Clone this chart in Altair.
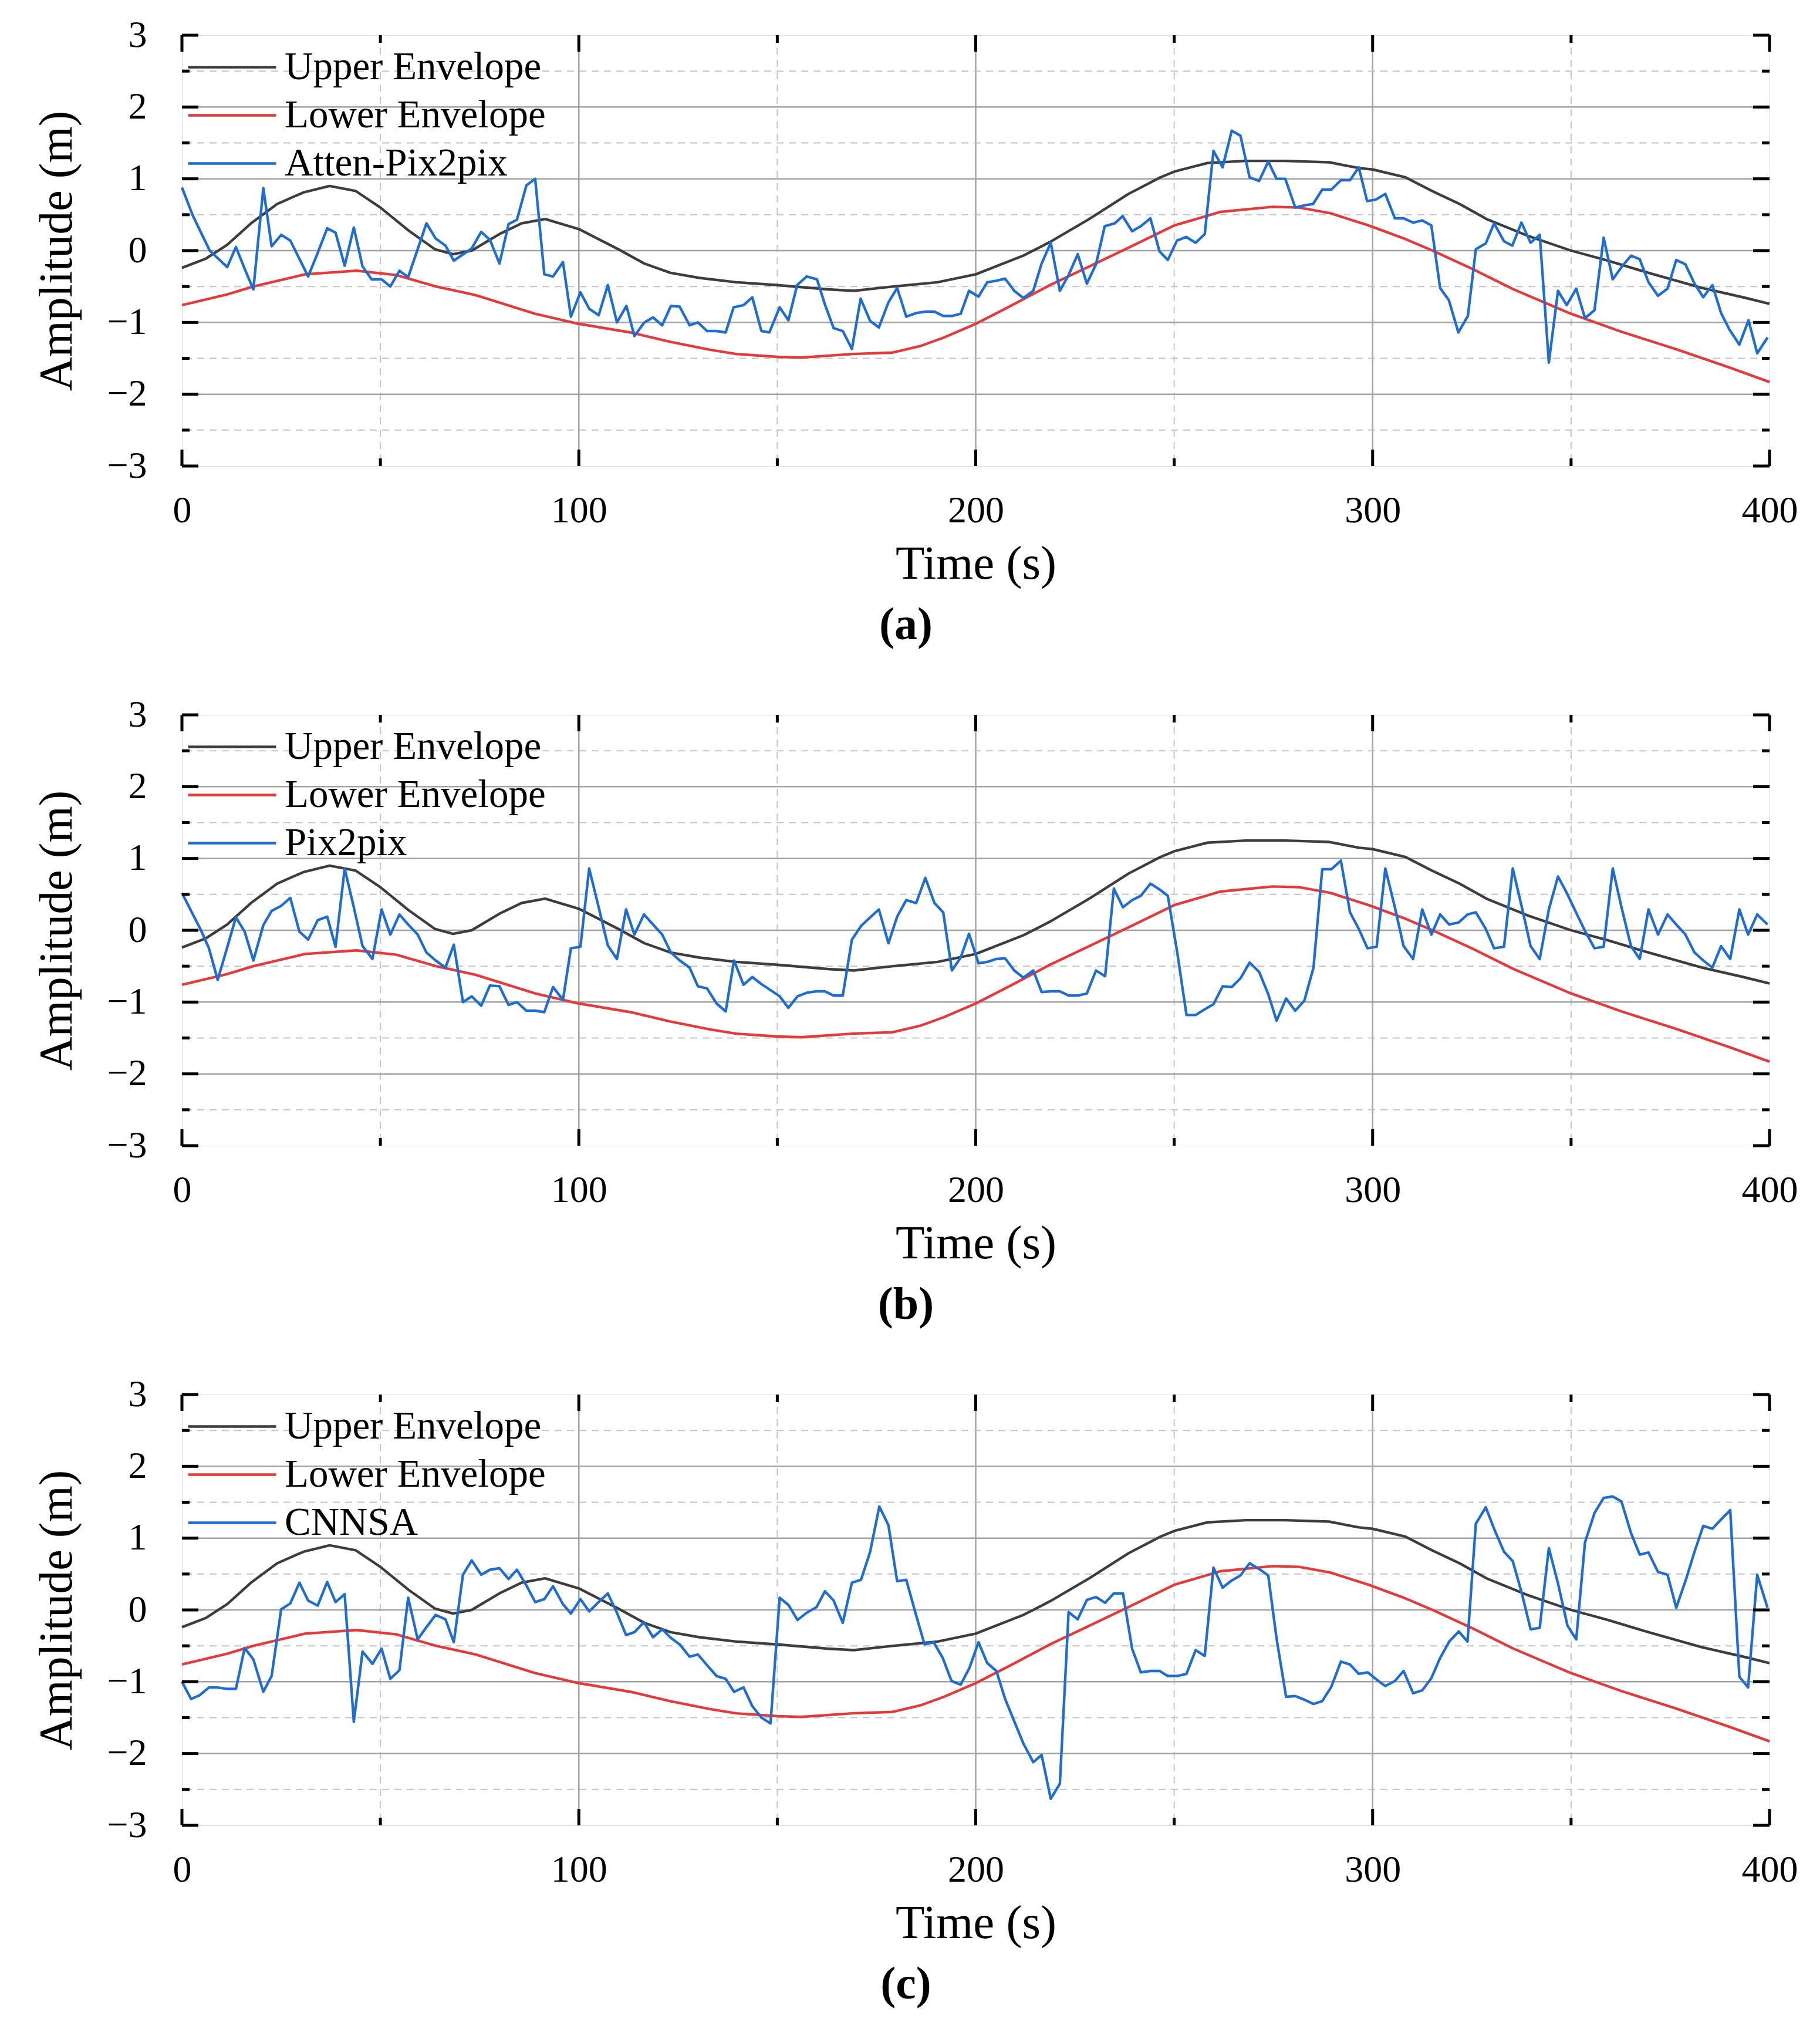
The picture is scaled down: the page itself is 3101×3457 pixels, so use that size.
import altair as alt
import pandas as pd

# ---------------- data ----------------
UP_T = [0, 6.1, 11.4, 17.4, 24, 30.6, 37.2, 43.8, 50, 57.1, 63.7, 68.3, 73, 80.3, 85.6, 91.5, 100,
        109.9, 116.5, 123.1, 130.4, 139.6, 150, 162.7, 169.3, 179.2, 190.4, 200,
        212, 218.7, 228.6, 238.5, 246.5, 250, 258.4, 268, 278, 289, 296.6,
        300, 308.3, 315, 321.9, 328.7, 338.9, 350, 359.3, 369.5, 383, 393.3, 400]
UP_V = [-0.24, -0.11, 0.08, 0.38, 0.65, 0.81, 0.90, 0.83, 0.60, 0.28, 0.02, -0.05, 0.0, 0.24, 0.38, 0.44, 0.30,
        0.02, -0.18, -0.31, -0.38, -0.44, -0.48, -0.54, -0.56, -0.50, -0.44, -0.33,
        -0.07, 0.12, 0.44, 0.79, 1.02, 1.10, 1.22, 1.25, 1.25, 1.23, 1.15,
        1.13, 1.02, 0.83, 0.65, 0.44, 0.21, 0.0, -0.14, -0.31, -0.52, -0.65, -0.74]

LO_T = [0, 11.4, 18, 31, 44, 54, 64, 74, 89, 100,
        113, 123, 133, 139.6, 150, 156, 169, 179, 186, 192, 200,
        208.8, 218.7, 228.6, 238.5, 250, 261.7, 274.8, 281.5, 289.4, 299,
        308.3, 315.1, 325.3, 335.5, 350, 362.7, 376.3, 390, 400]
LO_V = [-0.76, -0.61, -0.50, -0.33, -0.28, -0.34, -0.50, -0.62, -0.88, -1.02,
        -1.14, -1.27, -1.38, -1.44, -1.48, -1.49, -1.44, -1.42, -1.33, -1.21, -1.02,
        -0.77, -0.48, -0.22, 0.04, 0.35, 0.54, 0.61, 0.60, 0.52, 0.35,
        0.16, 0.0, -0.26, -0.54, -0.88, -1.13, -1.37, -1.63, -1.83]

A_T = [0, 2.8, 7, 11.4, 13.6, 16, 18, 20.5, 22.6, 25, 27.3, 31.8, 34, 36.6, 38.7, 41, 43.3, 45.5, 47.8,
       50.3, 52.5, 54.8, 57, 61.6, 63.9, 66.4, 68.5, 73, 75.4, 77.6, 80, 82.3, 84.4, 86.8, 89, 91.3,
       93.5, 96, 98, 100.4, 102.6, 105, 107.3, 109.6, 112, 114, 116.5, 118.7, 121, 123.2, 125.4,
       127.9, 130, 132.3, 134.7, 137, 139, 141.5, 143.7, 146, 148, 150.6, 152.8, 155, 157.4, 160,
       162, 164.2, 166.5, 168.8, 171, 173.4, 175.6, 178, 180.2, 182.5, 185, 187.3, 189.6, 191.8,
       194, 196.2, 198.3, 200.7, 202.9, 205.2, 207.4, 209.7, 212, 214.5, 216.6, 218.9, 221.2,
       223.4, 225.7, 228, 230.3, 232.5, 235, 237, 239.4, 241.6, 244, 246.3, 248.4, 250.7, 253,
       255.4, 257.7, 259.9, 262.2, 264.5, 266.7, 269, 271.4, 273.7, 275.8, 278, 280.5, 282.8,
       285, 287.3, 289.6, 292, 294.3, 296.5, 298.6, 300.8, 303.2, 305.6, 307.8, 310.2, 312.5,
       314.8, 317, 319.2, 321.6, 324, 326, 328.5, 330.6, 333.1, 335.2, 337.5, 339.8, 342.1,
       344.4, 346.7, 348.9, 351.3, 353.5, 355.9, 358.2, 360.5, 362.7, 365.1, 367.3, 369.5,
       371.9, 374.3, 376.5, 378.8, 381.1, 383.3, 385.6, 387.8, 389.9, 392.4, 394.7, 396.9, 399.5]
A_V = [0.88, 0.48, 0.0, -0.23, 0.05, -0.28, -0.54, 0.87, 0.06, 0.22, 0.14, -0.36, -0.06, 0.31, 0.25,
       -0.21, 0.32, -0.22, -0.40, -0.40, -0.50, -0.28, -0.37, 0.38, 0.17, 0.07, -0.14, 0.03, 0.26,
       0.15, -0.18, 0.37, 0.43, 0.91, 1.0, -0.33, -0.36, -0.16, -0.92, -0.58, -0.81, -0.90, -0.48,
       -1.0, -0.77, -1.19, -1.0, -0.93, -1.04, -0.77, -0.78, -1.04, -1.0, -1.12, -1.12, -1.14,
       -0.79, -0.76, -0.65, -1.12, -1.14, -0.79, -0.97, -0.48, -0.36, -0.40, -0.75, -1.08, -1.12,
       -1.37, -0.67, -0.98, -1.07, -0.72, -0.52, -0.92, -0.87, -0.85, -0.85, -0.91, -0.91, -0.88,
       -0.56, -0.64, -0.44, -0.42, -0.39, -0.56, -0.66, -0.56, -0.18, 0.11, -0.56, -0.34, -0.05,
       -0.46, -0.19, 0.34, 0.38, 0.48, 0.27, 0.34, 0.45, -0.01, -0.13, 0.14, 0.19, 0.11, 0.23,
       1.39, 1.16, 1.67, 1.60, 1.02, 0.97, 1.24, 1.0, 1.0, 0.60, 0.63, 0.65, 0.85, 0.85, 0.98,
       0.98, 1.16, 0.69, 0.71, 0.79, 0.45, 0.45, 0.39, 0.42, 0.35, -0.52, -0.69, -1.14, -0.91,
       0.02, 0.10, 0.38, 0.13, 0.07, 0.39, 0.11, 0.22, -1.56, -0.56, -0.76, -0.53, -0.94, -0.83,
       0.18, -0.40, -0.23, -0.07, -0.12, -0.44, -0.63, -0.53, -0.13, -0.19, -0.46, -0.65, -0.48,
       -0.87, -1.10, -1.31, -0.97, -1.43, -1.21]

B_T = [0, 2.5, 4.8, 6.8, 9, 11.4, 13.6, 15.8, 18, 20.5, 22.6, 25, 27.3, 29.6, 31.8, 34.2, 36.6,
       38.7, 41, 43.3, 45.5, 48, 50.3, 52.5, 54.8, 57, 59.4, 61.6, 63.9, 66.4, 68.5, 70.8, 73,
       75.4, 77.6, 80, 82.3, 84.4, 86.8, 89, 91.3, 93.5, 96, 98, 100.4, 102.6, 105, 107.3, 109.6,
       111.9, 114, 116.4, 118.7, 121, 123.2, 125.4, 127.9, 130, 132.3, 134.7, 137, 139.1, 141.5,
       143.7, 146, 148.2, 150.6, 152.8, 155.1, 157.4, 159.9, 162, 164.2, 166.5, 168.8, 171.1,
       173.4, 175.6, 178, 180.2, 182.5, 185, 187.3, 189.6, 191.8, 194, 196.2, 198.3, 200.7,
       202.9, 205.2, 207.4, 209.7, 212, 214.5, 216.6, 218.9, 221.2, 223.4, 225.7, 228, 230.3,
       232.6, 234.8, 237.1, 239.4, 241.6, 244, 246.3, 248.4, 250.8, 253.1, 255.4, 257.7, 259.9,
       262.2, 264.5, 266.7, 269, 271.4, 273.7, 275.8, 278.2, 280.5, 282.8, 285.1, 287.3, 289.6,
       292, 294.3, 296.5, 298.7, 301, 303.2, 305.6, 307.8, 310.2, 312.5, 314.8, 317, 319.3,
       321.7, 323.9, 326, 328.5, 330.6, 333.1, 335.3, 337.6, 339.8, 342.1, 344.4, 346.7, 349.1,
       351.5, 353.7, 355.9, 358.2, 360.5, 362.7, 365.1, 367.3, 369.5, 371.9, 374.3, 376.5,
       378.8, 381.1, 383.3, 385.6, 387.8, 390.1, 392.4, 394.6, 396.9, 399.5]
B_V = [0.52, 0.25, 0.0, -0.25, -0.69, -0.24, 0.18, -0.02, -0.42, 0.07, 0.27, 0.34, 0.45, -0.02,
       -0.13, 0.14, 0.19, -0.23, 0.86, 0.32, -0.22, -0.40, 0.29, -0.06, 0.22, 0.08, -0.06, -0.31,
       -0.42, -0.52, -0.20, -1.0, -0.92, -1.05, -0.77, -0.78, -1.04, -1.0, -1.12, -1.12, -1.14,
       -0.79, -0.97, -0.25, -0.23, 0.86, 0.32, -0.21, -0.40, 0.29, -0.06, 0.22, 0.08, -0.06,
       -0.31, -0.42, -0.52, -0.78, -0.81, -1.02, -1.13, -0.42, -0.76, -0.65, -0.75, -0.83,
       -0.92, -1.08, -0.92, -0.87, -0.85, -0.85, -0.91, -0.91, -0.13, 0.06, 0.18, 0.29, -0.18,
       0.19, 0.42, 0.38, 0.73, 0.38, 0.25, -0.56, -0.38, -0.05, -0.46, -0.44, -0.40, -0.39,
       -0.56, -0.66, -0.56, -0.86, -0.85, -0.85, -0.91, -0.91, -0.88, -0.56, -0.64, 0.58, 0.32,
       0.42, 0.48, 0.65, 0.57, 0.48, -0.32, -1.18, -1.18, -1.10, -1.03, -0.78, -0.79, -0.67,
       -0.45, -0.58, -0.89, -1.26, -0.95, -1.12, -0.98, -0.52, 0.85, 0.85, 0.97, 0.25, 0.02,
       -0.25, -0.23, 0.86, 0.32, -0.22, -0.40, 0.29, -0.06, 0.22, 0.08, 0.11, 0.22, 0.25, 0.02,
       -0.25, -0.23, 0.86, 0.32, -0.22, -0.40, 0.29, 0.75, 0.50, 0.22, -0.03, -0.25, -0.23,
       0.86, 0.32, -0.22, -0.40, 0.29, -0.06, 0.22, 0.08, -0.06, -0.31, -0.42, -0.52, -0.22,
       -0.40, 0.29, -0.06, 0.22, 0.08]

C_T = [0, 2.3, 4.4, 6.8, 9, 11.4, 13.6, 15.8, 18, 20.5, 22.6, 25, 27.3, 29.6, 31.8, 34.2, 36.6,
       38.7, 41, 43.3, 45.5, 48, 50.3, 52.5, 54.8, 57, 59.4, 61.6, 63.9, 66.4, 68.5, 70.8, 73,
       75.4, 77.6, 80, 82.3, 84.4, 86.8, 89, 91.3, 93.5, 96, 98, 100.4, 102.6, 105, 107.3, 109.6,
       111.9, 114, 116.4, 118.7, 121, 123.2, 125.4, 127.9, 130, 132.3, 134.7, 137, 139.1, 141.5,
       143.7, 146, 148.3, 150.6, 152.8, 155.1, 157.4, 159.9, 162, 164.2, 166.5, 168.8, 171.1,
       173.4, 175.7, 178, 180.2, 182.5, 184.8, 187.1, 189.4, 191.7, 193.9, 196.2, 198.4, 200.7,
       202.9, 205.2, 207.4, 209.7, 212, 214.5, 216.6, 218.9, 221.2, 223.4, 225.7, 228, 230.3,
       232.6, 234.8, 237.1, 239.4, 241.6, 244, 246.3, 248.4, 250.8, 253.1, 255.4, 257.7, 259.9,
       262.2, 264.5, 266.7, 269, 271.4, 273.7, 275.8, 278.2, 280.5, 282.8, 285.1, 287.3, 289.6,
       292, 294.3, 296.5, 298.8, 301, 303.2, 305.6, 307.8, 310.2, 312.5, 314.8, 317, 319.3,
       321.7, 323.9, 326, 328.5, 330.6, 333.1, 335.3, 337.6, 339.8, 342.1, 344.4, 346.7, 349.1,
       351.3, 353.5, 355.9, 358.2, 360.5, 362.7, 365.1, 367.3, 369.5, 371.9, 374.3, 376.5,
       378.8, 381.1, 383.3, 385.6, 387.8, 390.1, 392.4, 394.6, 396.9, 399.5]
C_V = [-1.0, -1.24, -1.19, -1.08, -1.08, -1.10, -1.10, -0.53, -0.69, -1.14, -0.92, 0.01, 0.09,
       0.38, 0.13, 0.06, 0.39, 0.11, 0.22, -1.56, -0.58, -0.75, -0.54, -0.96, -0.84, 0.17, -0.41,
       -0.24, -0.07, -0.13, -0.45, 0.49, 0.69, 0.49, 0.56, 0.58, 0.43, 0.56, 0.34, 0.11, 0.15,
       0.33, 0.08, -0.05, 0.15, -0.02, 0.11, 0.23, -0.04, -0.35, -0.31, -0.17, -0.38, -0.27,
       -0.39, -0.48, -0.65, -0.62, -0.77, -0.92, -0.96, -1.14, -1.08, -1.34, -1.50, -1.58, 0.17,
       0.07, -0.14, -0.04, 0.04, 0.26, 0.13, -0.18, 0.38, 0.42, 0.81, 1.44, 1.18, 0.40, 0.42,
       -0.04, -0.48, -0.45, -0.67, -0.99, -1.04, -0.81, -0.45, -0.74, -0.85, -1.24, -1.55, -1.86,
       -2.12, -2.02, -2.63, -2.42, -0.03, -0.13, 0.14, 0.18, 0.10, 0.23, 0.23, -0.54, -0.87,
       -0.85, -0.85, -0.92, -0.92, -0.89, -0.56, -0.64, 0.59, 0.31, 0.41, 0.48, 0.65, 0.57, 0.48,
       -0.40, -1.21, -1.20, -1.25, -1.31, -1.27, -1.07, -0.72, -0.76, -0.89, -0.87, -0.97, -1.06,
       -0.99, -0.85, -1.16, -1.12, -0.95, -0.67, -0.44, -0.30, -0.44, 1.20, 1.43, 1.13, 0.81,
       0.68, 0.23, -0.27, -0.25, 0.86, 0.37, -0.22, -0.41, 0.94, 1.35, 1.56, 1.58, 1.51, 1.07,
       0.77, 0.80, 0.53, 0.49, 0.03, 0.40, 0.81, 1.17, 1.13, 1.26, 1.39, -0.93, -1.08, 0.49, 0.03]

SERIES = ["Atten-Pix2pix", "Pix2pix", "CNNSA"]
CAPTIONS = ["(a)", "(b)", "(c)"]

X_MAJOR = [0, 100, 200, 300, 400]
X_MINOR = [50, 150, 250, 350]
X_GRID = [100, 200, 300]
Y_MAJOR = [-3, -2, -1, 0, 1, 2, 3]
Y_MINOR = [-2.5, -1.5, -0.5, 0.5, 1.5, 2.5]
Y_GRID = [-2, -1, 0, 1, 2]

# ---------------- style ----------------
W, H = 2705, 734
FONT = "Liberation Serif"
C_UP, C_LO, C_BLUE = "#3d3d3d", "#e23b3b", "#1f6dd0"
MAJ_LEN, MIN_LEN = 28, 13

XS = alt.Scale(domain=[0, 400], nice=False, zero=False)
YS = alt.Scale(domain=[-3, 3], nice=False, zero=False)

X_AXIS = alt.Axis(values=X_MAJOR, grid=False, ticks=False, domain=False, format="d",
                  labelFont=FONT, labelFontSize=64, labelColor="black", labelPadding=44,
                  labelFlush=False, title="Time (s)", titleFont=FONT, titleFontSize=81,
                  titleFontWeight="normal", titleColor="black", titlePadding=19)
Y_AXIS = alt.Axis(values=Y_MAJOR, grid=False, ticks=False, domain=False, format="d",
                  labelFont=FONT, labelFontSize=64, labelColor="black", labelPadding=60,
                  labelFlush=False, title="Amplitude (m)", titleFont=FONT, titleFontSize=80,
                  titleFontWeight="normal", titleColor="black", titlePadding=43)

# legend symbol: a flat line drawn wider than its layout box
SYM_PATH = "M-2.5,0L2.5,0"
SYM_SIZE = 3600          # layout box 60 px, drawn line 150 px


def xdf(vals):
    return pd.DataFrame({"t": vals})


def ydf(vals):
    return pd.DataFrame({"v": vals})


def panel(bt, bv, name, caption):
    x_enc = alt.X("t:Q", scale=XS, axis=X_AXIS)
    y_enc = alt.Y("v:Q", scale=YS, axis=Y_AXIS)

    grid_x_minor = alt.Chart(xdf(X_MINOR)).mark_rule(
        color="#c4c4c4", strokeWidth=2, strokeDash=[12, 9]).encode(x=x_enc)
    grid_x_major = alt.Chart(xdf(X_GRID)).mark_rule(
        color="#a3a3a3", strokeWidth=2.5).encode(x=x_enc)
    grid_y_minor = alt.Chart(ydf(Y_MINOR)).mark_rule(
        color="#c4c4c4", strokeWidth=2, strokeDash=[12, 9]).encode(y=y_enc)
    grid_y_major = alt.Chart(ydf(Y_GRID)).mark_rule(
        color="#a3a3a3", strokeWidth=2.5).encode(y=y_enc)

    rows = []
    for t, v in zip(UP_T, UP_V):
        rows.append({"t": t, "v": v, "s": "Upper Envelope", "k": 0})
    for t, v in zip(LO_T, LO_V):
        rows.append({"t": t, "v": v, "s": "Lower Envelope", "k": 1})
    for t, v in zip(bt, bv):
        rows.append({"t": t, "v": v, "s": name, "k": 2})
    df = pd.DataFrame(rows)

    lines = alt.Chart(df).mark_line(strokeWidth=4.4, strokeJoin="round").encode(
        x=x_enc, y=y_enc,
        color=alt.Color("s:N",
                        scale=alt.Scale(domain=["Upper Envelope", "Lower Envelope", name],
                                        range=[C_UP, C_LO, C_BLUE]),
                        legend=alt.Legend(orient="none", legendX=52, legendY=21, title=None,
                                          symbolType=SYM_PATH, symbolSize=SYM_SIZE,
                                          symbolStrokeWidth=4.4, labelFont=FONT,
                                          labelFontSize=67, labelColor="black",
                                          labelLimit=2000, labelOffset=56,
                                          rowPadding=14, padding=0)),
        order=alt.Order("k:Q"),
        detail="s:N",
    )

    def ticks_x(vals, length):
        d = xdf(vals)
        bot = alt.Chart(d).mark_rule(color="black", strokeWidth=5).encode(
            x=x_enc, y=alt.value(H), y2=alt.value(H - length))
        top = alt.Chart(d).mark_rule(color="black", strokeWidth=5).encode(
            x=x_enc, y=alt.value(0), y2=alt.value(length))
        return [bot, top]

    def ticks_y(vals, length):
        d = ydf(vals)
        lef = alt.Chart(d).mark_rule(color="black", strokeWidth=5).encode(
            y=y_enc, x=alt.value(0), x2=alt.value(length))
        rig = alt.Chart(d).mark_rule(color="black", strokeWidth=5).encode(
            y=y_enc, x=alt.value(W), x2=alt.value(W - length))
        return [lef, rig]

    layers = [grid_x_minor, grid_x_major, grid_y_minor, grid_y_major, lines]
    layers += ticks_x(X_MAJOR, MAJ_LEN) + ticks_x(X_MINOR, MIN_LEN)
    layers += ticks_y(Y_MAJOR, MAJ_LEN) + ticks_y(Y_MINOR, MIN_LEN)

    return alt.layer(*layers).properties(
        width=W, height=H,
        title=alt.TitleParams(caption, orient="bottom", font=FONT, fontSize=78,
                              fontWeight="bold", color="black", offset=26, dx=-119),
    )


panels = [panel(t, v, n, c) for (t, v, n, c) in
          zip([A_T, B_T, C_T], [A_V, B_V, C_V], SERIES, CAPTIONS)]

chart = alt.vconcat(*panels, spacing=79).resolve_scale(
    color="independent").resolve_legend(color="independent").properties(
    padding={"left": 49, "top": 19, "right": 10, "bottom": 10}
).configure_view(stroke="black", strokeWidth=7).configure(background="white")

chart.save("out.html", embed_options={"renderer": "svg", "actions": False})
